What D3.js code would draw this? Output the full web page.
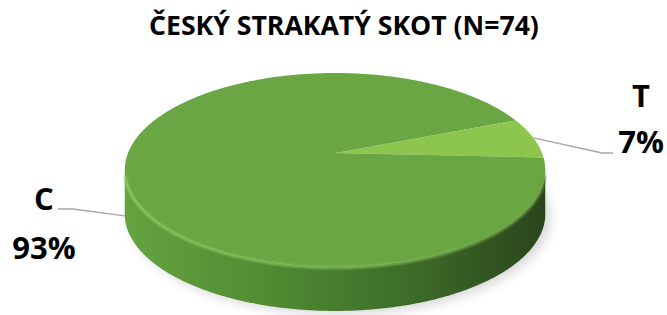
<!DOCTYPE html>
<html>
<head>
<meta charset="utf-8">
<script src="https://cdn.jsdelivr.net/npm/d3@7"></script>
<style>
  body { margin: 0; background: #fff; }
  text { font-family: "Open Sans", "DejaVu Sans", sans-serif; font-weight: 700; fill: #000; }
</style>
</head>
<body>
<script>
const width = 667;
const height = 315;

const title = 'ČESKÝ STRAKATÝ SKOT (N=74)';
const categories = ['C', 'T'];
const counts = [69, 5];
const sliceColors = ['#6aa744', '#8cc64e'];

// pie placement (perspective disc)
const cx = 335, cy = 153;
const A = 207, B = 94, k = 0.175;
const depth = 44;
const startDeg = 92.7;

const svg = d3.select('body').append('svg')
  .attr('width', width)
  .attr('height', height);

const defs = svg.append('defs');

const sideGrad = defs.append('linearGradient')
  .attr('id', 'side')
  .attr('gradientUnits', 'userSpaceOnUse')
  .attr('x1', 123).attr('x2', 545).attr('y1', 0).attr('y2', 0);
[[0, '#65a440'], [0.35, '#4f8b33'], [0.7, '#3c6a28'], [1, '#2a451c']].forEach(s =>
  sideGrad.append('stop').attr('offset', s[0]).attr('stop-color', s[1]));

const lipGrad = defs.append('linearGradient')
  .attr('id', 'lip')
  .attr('gradientUnits', 'userSpaceOnUse')
  .attr('x1', 123).attr('x2', 545).attr('y1', 0).attr('y2', 0);
[[0, '#92ce66'], [0.6, '#82bd57'], [1, '#6a9f45']].forEach(s =>
  lipGrad.append('stop').attr('offset', s[0]).attr('stop-color', s[1]));

defs.append('filter').attr('id', 'blur')
  .attr('x', '-20%').attr('y', '-20%').attr('width', '140%').attr('height', '140%')
  .append('feGaussianBlur').attr('stdDeviation', 6);
defs.append('filter').attr('id', 'soft')
  .append('feGaussianBlur').attr('stdDeviation', 0.8);

// angle a: clockwise from 12 o'clock (far side of the disc)
function proj(a, drop = 0) {
  const u = Math.sin(a), v = -Math.cos(a);
  const w = 1 - k * v;
  return [cx + A * u / w, cy + B * v / w + drop];
}

function rim(a0, a1, drop = 0) {
  const n = Math.max(2, Math.ceil(Math.abs(a1 - a0) / 0.01));
  return d3.range(n + 1).map(i => proj(a0 + (a1 - a0) * i / n, drop));
}

const line = d3.line();

const pie = d3.pie().sort(null)
  .startAngle(startDeg * Math.PI / 180)
  .endAngle(startDeg * Math.PI / 180 + 2 * Math.PI);
const arcs = pie(counts);
const total = d3.sum(counts);

// silhouette angles of the visible side
const sideR = Math.acos(-k);
const sideL = 2 * Math.PI - sideR;

// shadow
svg.append('path')
  .attr('d', line(rim(0, 2 * Math.PI, depth + 3).map(p => [p[0] + 5, p[1]])) + 'Z')
  .attr('fill', '#000')
  .attr('opacity', 0.16)
  .attr('filter', 'url(#blur)');

// side wall
arcs.forEach((d, i) => {
  for (let off = -2 * Math.PI; off <= 2 * Math.PI; off += 2 * Math.PI) {
    const a0 = Math.max(d.startAngle + off, sideR);
    const a1 = Math.min(d.endAngle + off, sideL);
    if (a1 <= a0) continue;
    const pts = rim(a0, a1).concat(rim(a1, a0, depth));
    svg.append('path')
      .attr('class', 'side')
      .attr('d', line(pts) + 'Z')
      .attr('fill', 'url(#side)');
  }
});

// top faces
svg.selectAll('.slice')
  .data(arcs)
  .enter().append('path')
  .attr('class', 'slice')
  .attr('d', d => line([[cx, cy]].concat(rim(d.startAngle, d.endAngle))) + 'Z')
  .attr('fill', (d, i) => sliceColors[i]);

// bevel lip on the front edge
svg.append('path')
  .attr('d', line(rim(sideR + 0.05, sideL - 0.05, 0.8)))
  .attr('fill', 'none')
  .attr('stroke', 'url(#lip)')
  .attr('stroke-width', 2.2)
  .attr('filter', 'url(#soft)');

// labels and leader lines
const labelPos = [
  { x: 44, y1: 210, y2: 259, elbow: [[58, 209], [73, 209]], onSide: true },
  { x: 641, y1: 107, y2: 153, elbow: [[613, 153], [602, 153]], onSide: false }
];

arcs.forEach((d, i) => {
  const lp = labelPos[i];
  const mid = (d.startAngle + d.endAngle) / 2;
  const anchor = proj(mid, lp.onSide ? depth + 3 : 0);
  svg.append('path')
    .attr('d', line(lp.elbow.concat([anchor])))
    .attr('fill', 'none')
    .attr('stroke', '#a6a6a6')
    .attr('stroke-width', 1.3);
  svg.append('text')
    .attr('x', lp.x).attr('y', lp.y1)
    .attr('text-anchor', 'middle')
    .attr('font-size', 31)
    .text(categories[i]);
  svg.append('text')
    .attr('x', lp.x).attr('y', lp.y2)
    .attr('text-anchor', 'middle')
    .attr('font-size', 31)
    .text(d3.format('.0%')(counts[i] / total));
});

// title, sized to span the same width as the original
const titleText = svg.append('text')
  .attr('x', 344).attr('y', 35)
  .attr('text-anchor', 'middle')
  .attr('font-size', 23)
  .text(title);
const tw = titleText.node().getComputedTextLength();
titleText.attr('font-size', 23 * 390 / tw);
</script>
</body>
</html>
